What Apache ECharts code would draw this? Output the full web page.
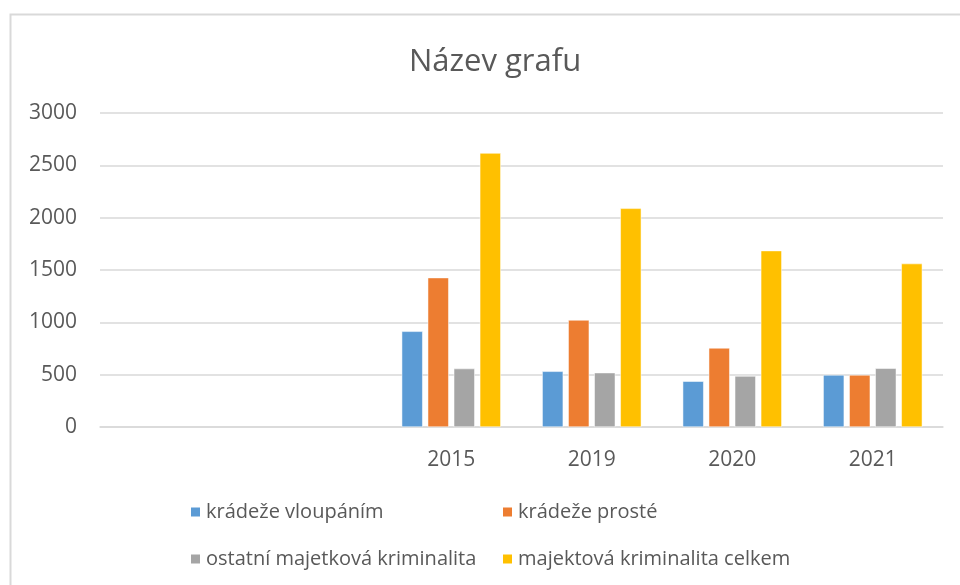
<!DOCTYPE html>
<html>
<head>
<meta charset="utf-8">
<script src="https://cdn.jsdelivr.net/npm/echarts@6/dist/echarts.min.js"></script>
<style>
  html, body { margin: 0; padding: 0; background: #fff; }
  #chart { width: 960px; height: 585px; }
</style>
</head>
<body>
<div id="chart"></div>
<script>
// hodnoty
var roky = ['', '', '2015', '2019', '2020', '2021'];
var vloupanim = [null, null, 914, 532, 437, 497];
var proste = [null, null, 1427, 1022, 755, 497];
var ostatni = [null, null, 558, 519, 487, 561];
var celkem = [null, null, 2617, 2089, 1685, 1561];
var yTicks = [0, 500, 1000, 1500, 2000, 2500, 3000];

var nazvy = ['krádeže vloupáním', 'krádeže prosté', 'ostatní majetková kriminalita', 'majektová kriminalita celkem'];
var barvy = ['#5b9bd5', '#ed7d31', '#a5a5a5', '#ffc000'];

var font = '"Open Sans", Lato, sans-serif';
var textColor = '#595959';

var myChart = echarts.init(document.getElementById('chart'));

function legenda(i, left, top) {
    return {
        data: [nazvy[i]],
        left: left,
        top: top,
        padding: 0,
        itemWidth: 11,
        itemHeight: 11,
        icon: 'rect',
        textStyle: { color: textColor, fontSize: 20, fontFamily: font }
    };
}

function serie(i, data) {
    return {
        name: nazvy[i],
        type: 'bar',
        data: data,
        barWidth: 21,
        barGap: '24%',
        itemStyle: { color: barvy[i], borderColor: '#fff', borderWidth: 0.5 },
        emphasis: { disabled: true }
    };
}

var option = {
    animation: false,
    title: {
        text: 'Název grafu',
        left: 404,
        top: 42,
        textStyle: { color: textColor, fontSize: 31, fontWeight: 'normal', fontFamily: font }
    },
    legend: [
        legenda(0, 189, 502),
        legenda(1, 501, 502),
        legenda(2, 189, 549),
        legenda(3, 501, 549)
    ],
    grid: { left: 100, right: 17, top: 113, bottom: 158, containLabel: false },
    xAxis: {
        type: 'category',
        data: roky,
        axisLine: { lineStyle: { color: '#d9d9d9', width: 1.5 } },
        axisTick: { show: false },
        axisLabel: { color: textColor, fontSize: 21, fontFamily: font, margin: 23 }
    },
    yAxis: {
        type: 'value',
        min: yTicks[0],
        max: yTicks[yTicks.length - 1],
        interval: 500,
        axisLine: { show: false },
        axisTick: { show: false },
        axisLabel: {
            color: textColor, fontSize: 21, fontFamily: font, margin: 23,
            formatter: function (v) { return String(v); }
        },
        splitLine: { lineStyle: { color: '#d9d9d9', width: 1.5 } }
    },
    graphic: [{
        type: 'rect',
        shape: { x: 10.5, y: 14.5, width: 1000, height: 1000 },
        style: { fill: 'none', stroke: '#d9d9d9', lineWidth: 2 },
        silent: true
    }],
    series: [
        serie(0, vloupanim),
        serie(1, proste),
        serie(2, ostatni),
        serie(3, celkem)
    ]
};
myChart.setOption(option);
</script>
</body>
</html>
